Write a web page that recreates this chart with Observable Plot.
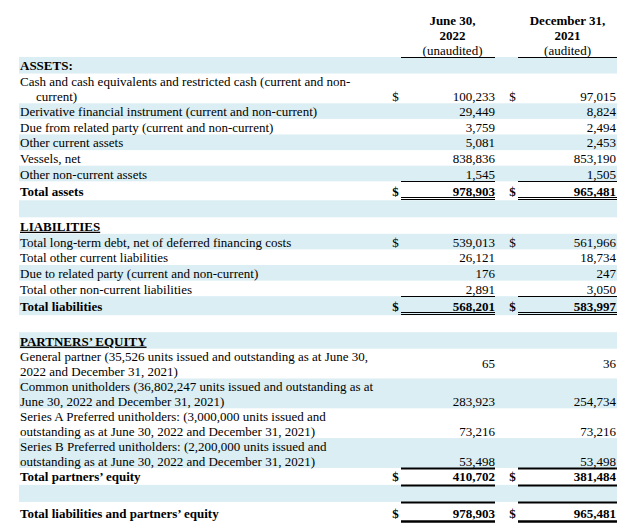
<!DOCTYPE html>
<html>
<head>
<meta charset="utf-8">
<script src="https://cdn.jsdelivr.net/npm/d3@7"></script>
<script src="https://cdn.jsdelivr.net/npm/@observablehq/plot@0.6"></script>
<style>
  html, body { margin: 0; padding: 0; background: #fff; }
  #chart svg { display: block; }
</style>
</head>
<body>
<div id="chart"></div>
<script>
// ---------------- data ----------------
const columnDates = ["June 30,\n2022", "December 31,\n2021"];
const columnNotes = ["(unaudited)", "(audited)"];

const labels = [
  "ASSETS:",
  "Cash and cash equivalents and restricted cash (current and non-\ncurrent)",
  "Derivative financial instrument (current and non-current)",
  "Due from related party (current and non-current)",
  "Other current assets",
  "Vessels, net",
  "Other non-current assets",
  "Total assets",
  "",
  "LIABILITIES",
  "Total long-term debt, net of deferred financing costs",
  "Total other current liabilities",
  "Due to related party (current and non-current)",
  "Total other non-current liabilities",
  "Total liabilities",
  "",
  "PARTNERS\u2019 EQUITY",
  "General partner (35,526 units issued and outstanding as at June 30,\n2022 and December 31, 2021)",
  "Common unitholders (36,802,247 units issued and outstanding as at\nJune 30, 2022 and December 31, 2021)",
  "Series A Preferred unitholders: (3,000,000 units issued and\noutstanding as at June 30, 2022 and December 31, 2021)",
  "Series B Preferred unitholders: (2,200,000 units issued and\noutstanding as at June 30, 2022 and December 31, 2021)",
  "Total partners\u2019 equity",
  "",
  "Total liabilities and partners\u2019 equity"
];

const kinds = [
  "section", "item", "item", "item", "item", "item", "item", "total", "blank",
  "section", "item", "item", "item", "item", "total", "blank",
  "section", "item", "item", "item", "item", "totalThick", "blank", "grand"
];

const june2022 = [
  null, 100233, 29449, 3759, 5081, 838836, 1545, 978903, null,
  null, 539013, 26121, 176, 2891, 568201, null,
  null, 65, 283923, 73216, 53498, 410702, null, 978903
];

const dec2021 = [
  null, 97015, 8824, 2494, 2453, 853190, 1505, 965481, null,
  null, 561966, 18734, 247, 3050, 583997, null,
  null, 36, 254734, 73216, 53498, 381484, null, 965481
];

const dollarSign = [
  false, true, false, false, false, false, false, true, false,
  false, true, false, false, false, true, false,
  false, false, false, false, false, true, false, true
];

// ---------------- layout / style ----------------
const W = 640, H = 531;
const FONT = "Liberation Serif";
const FS = 13;
const SHADE = "#daeef3";
const COL = {
  label: 19.5, indent: 16,
  dollar1: 395, val1: 494.5, dollar2: 512, val2: 615.5,
  rule1: [401, 495], rule2: [518, 617],
  band: [19, 617], head: [452, 567]
};
const ROW_H = { section: 16.5, item: 15.6, item2: 29.8, total: 19, totalThick: 17, blank: 17, grand: 28 };
const TOP = 57;
const HEAD_LINE = 15;
const hangingIndent = new Set([1]);        // continuation line indented
const underlinedRows = new Set([9, 16]);   // section headers underlined
const centeredValues = new Set([17]);      // values centred in the row

const fmt = d3.format(",");

// build rows
const rows = labels.map((label, i) => ({
  i, label, kind: kinds[i], v1: june2022[i], v2: dec2021[i], dollar: dollarSign[i],
  lines: label ? label.split("\n") : []
}));
let yy = TOP;
for (const r of rows) {
  const n = Math.max(1, r.lines.length);
  r.h = r.kind === "item" ? (n === 1 ? ROW_H.item : ROW_H.item2 * n / 2) : ROW_H[r.kind];
  r.top = yy; r.bottom = yy + r.h; yy += r.h;
  r.lineH = r.h / n;
}
function lineY(r, j) {
  if (r.kind === "total") return r.top + 10;
  if (r.kind === "totalThick") return r.top + 8.5;
  if (r.kind === "grand") return r.top + 11;
  return r.top + (j + 0.5) * r.lineH + 0.5;
}
function valueY(r) {
  if (centeredValues.has(r.i)) return (r.top + r.bottom) / 2;
  return lineY(r, Math.max(0, r.lines.length - 1));
}
const isBold = r => r.kind !== "item";

// label lines
const labelLines = rows.flatMap(r => r.lines.map((t, j) => ({
  text: t,
  x: COL.label + (j > 0 && hangingIndent.has(r.i) ? COL.indent : 0),
  y: lineY(r, j),
  bold: isBold(r),
  underline: underlinedRows.has(r.i)
})));

// values and dollar signs
const valueRecs = rows.filter(r => r.v1 != null).flatMap(r => [
  { x: COL.val1, y: valueY(r), text: fmt(r.v1), bold: isBold(r) },
  { x: COL.val2, y: valueY(r), text: fmt(r.v2), bold: isBold(r) }
]);
const dollarRecs = rows.filter(r => r.dollar).flatMap(r => [
  { x: COL.dollar1, y: valueY(r), text: "$", bold: isBold(r) },
  { x: COL.dollar2, y: valueY(r), text: "$", bold: isBold(r) }
]);

// header lines
const headRecs = columnDates.flatMap((d, c) => {
  const parts = d.split("\n");
  return parts.map((t, k) => ({
    x: COL.head[c], text: t, bold: true,
    y: TOP - 6.5 - HEAD_LINE * (parts.length - k)
  })).concat([{ x: COL.head[c], text: columnNotes[c], bold: false, y: TOP - 6.5 }]);
});

// rules
const spans = [COL.rule1, COL.rule2];
const ruleRecs = [];
spans.forEach(s => ruleRecs.push({ y: TOP, x1: s[0], x2: s[1], w: 1 }));
for (const r of rows) {
  for (const s of spans) {
    if (r.kind === "total") {
      ruleRecs.push({ y: Math.round(r.top), x1: s[0], x2: s[1], w: 1 });
      ruleRecs.push({ y: Math.round(r.bottom) - 3, x1: s[0], x2: s[1], w: 1 });
      ruleRecs.push({ y: Math.round(r.bottom) - 1, x1: s[0], x2: s[1], w: 1 });
    } else if (r.kind === "totalThick") {
      ruleRecs.push({ y: Math.round(r.top), x1: s[0], x2: s[1], w: 2 });
      ruleRecs.push({ y: Math.round(r.bottom), x1: s[0], x2: s[1], w: 2 });
    } else if (r.kind === "grand") {
      ruleRecs.push({ y: Math.round(r.top), x1: s[0], x2: s[1], w: 2 });
      ruleRecs.push({ y: Math.round(r.top) + 19, x1: s[0], x2: s[1], w: 2.5 });
    }
  }
}

const txt = (data, opts) => Plot.text(data, {
  x: "x", y: "y", text: "text", lineAnchor: "middle",
  fontFamily: FONT, fontSize: FS, fill: "#000", ...opts
});

const chart = Plot.plot({
  width: W, height: H,
  margin: 0,
  x: { type: "linear", domain: [0, W], range: [0, W], axis: null },
  y: { type: "linear", domain: [0, H], range: [0, H], axis: null },
  style: { fontFamily: FONT, fontSize: "13px", background: "#fff", color: "#000" },
  marks: [
    Plot.rect(rows.filter(r => r.i % 2 === 0), {
      x1: () => COL.band[0], x2: () => COL.band[1], y1: "top", y2: "bottom", fill: SHADE
    }),
    Plot.ruleY(ruleRecs, { y: "y", x1: "x1", x2: "x2", strokeWidth: "w", stroke: "#000" }),
    txt(headRecs.filter(d => d.bold), { textAnchor: "middle", fontWeight: "bold" }),
    txt(headRecs.filter(d => !d.bold), { textAnchor: "middle" }),
    txt(labelLines.filter(d => !d.bold), { textAnchor: "start" }),
    txt(labelLines.filter(d => d.bold), { textAnchor: "start", fontWeight: "bold" }),
    txt(valueRecs.filter(d => !d.bold), { textAnchor: "end" }),
    txt(valueRecs.filter(d => d.bold), { textAnchor: "end", fontWeight: "bold" }),
    txt(dollarRecs.filter(d => !d.bold), { textAnchor: "middle" }),
    txt(dollarRecs.filter(d => d.bold), { textAnchor: "middle", fontWeight: "bold" })
  ]
});

// underline the section headers that are underlined in the statement
const underlinedText = new Set(labelLines.filter(d => d.underline).map(d => d.text));
d3.select(chart).selectAll("text")
  .filter(function () { return underlinedText.has(this.textContent); })
  .style("text-decoration", "underline");

document.getElementById("chart").appendChild(chart);
</script>
</body>
</html>
